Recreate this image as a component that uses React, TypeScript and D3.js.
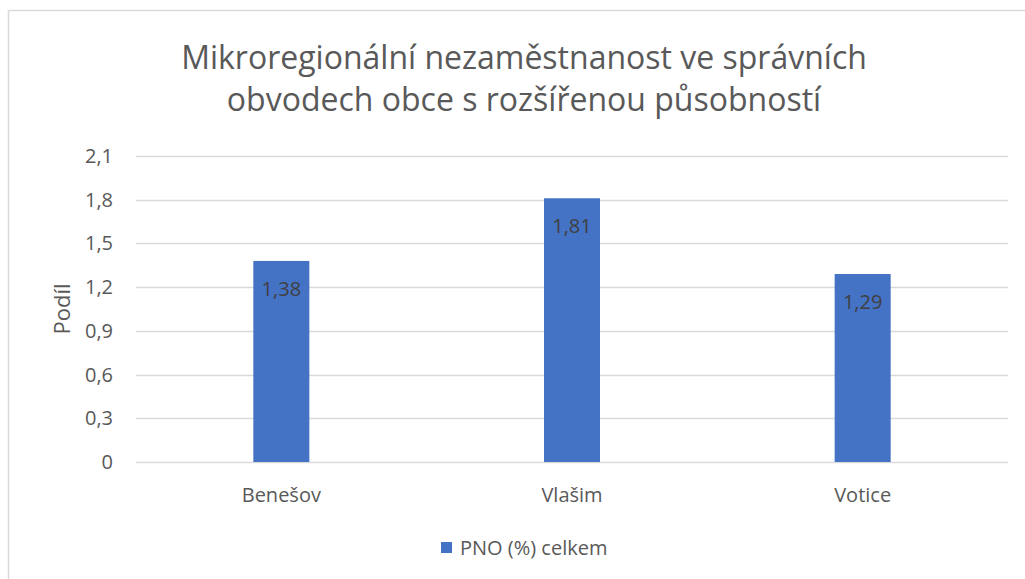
import * as d3 from "d3";
import React, { useRef, useEffect } from "react";

const categories = ["Benešov", "Vlašim", "Votice"];
const values = [1.38, 1.81, 1.29];
const yTicks = [0, 0.3, 0.6, 0.9, 1.2, 1.5, 1.8, 2.1];
const titleLines = [
  "Mikroregionální nezaměstnanost ve správních",
  "obvodech obce s rozšířenou působností",
];
const seriesName = "PNO (%) celkem";
const yLabel = "Podíl";

const width = 1025;
const height = 579;
const margin = { top: 156, right: 17, bottom: 117, left: 136 };
const font = "'Open Sans', sans-serif";
const fmt = (v: number) => d3.format(".2~f")(v).replace(".", ",");

function App() {
  const ref = useRef(null);

  useEffect(() => {
    const svg = d3.select(ref.current);
    svg.selectAll("*").remove();

    // frame
    svg
      .append("path")
      .attr("d", `M8.5,${height} V10.5 H${width}`)
      .attr("fill", "none")
      .attr("stroke", "#d9d9d9")
      .attr("stroke-width", 1.5);

    // title
    svg
      .append("g")
      .selectAll("text")
      .data(titleLines)
      .join("text")
      .attr("x", 524)
      .attr("y", (d, i) => 69 + i * 42)
      .attr("text-anchor", "middle")
      .style("font-family", font)
      .style("font-size", "32px")
      .style("fill", "#595959")
      .text((d) => d);

    const x = d3
      .scaleBand()
      .domain(categories)
      .range([margin.left, width - margin.right]);

    const y = d3
      .scaleLinear()
      .domain([0, 2.1])
      .range([height - margin.bottom, margin.top]);

    // gridlines
    svg
      .append("g")
      .selectAll("line")
      .data(yTicks)
      .join("line")
      .attr("x1", margin.left)
      .attr("x2", width - margin.right)
      .attr("y1", (d) => Math.round(y(d)) + 0.5)
      .attr("y2", (d) => Math.round(y(d)) + 0.5)
      .attr("stroke", "#d9d9d9")
      .attr("stroke-width", 1.5);

    // y axis labels
    svg
      .append("g")
      .selectAll("text")
      .data(yTicks)
      .join("text")
      .attr("x", 113)
      .attr("y", (d) => y(d))
      .attr("dy", "0.35em")
      .attr("text-anchor", "end")
      .style("font-family", font)
      .style("font-size", "20px")
      .style("fill", "#595959")
      .text((d) => (d === 0 ? "0" : d3.format(".1f")(d).replace(".", ",")));

    svg
      .append("text")
      .attr("transform", `translate(62,${y(1.05)}) rotate(-90)`)
      .attr("dy", "0.35em")
      .attr("text-anchor", "middle")
      .style("font-family", font)
      .style("font-size", "22px")
      .style("fill", "#595959")
      .text(yLabel);

    // bars
    const barW = 56;
    const bars = svg.append("g");
    bars
      .selectAll("rect")
      .data(values)
      .join("rect")
      .attr("x", (d, i) => x(categories[i])! + x.bandwidth() / 2 - barW / 2)
      .attr("y", (d) => y(d))
      .attr("width", barW)
      .attr("height", (d) => y(0) - y(d))
      .attr("fill", "#4472c4");

    bars
      .selectAll("text")
      .data(values)
      .join("text")
      .attr("x", (d, i) => x(categories[i])! + x.bandwidth() / 2)
      .attr("y", (d) => y(d) + 28)
      .attr("dy", "0.35em")
      .attr("text-anchor", "middle")
      .style("font-family", font)
      .style("font-size", "20px")
      .style("fill", "#404040")
      .text((d) => fmt(d));

    // x labels
    svg
      .append("g")
      .selectAll("text")
      .data(categories)
      .join("text")
      .attr("x", (d) => x(d)! + x.bandwidth() / 2)
      .attr("y", 495)
      .attr("dy", "0.35em")
      .attr("text-anchor", "middle")
      .style("font-family", font)
      .style("font-size", "20px")
      .style("fill", "#595959")
      .text((d) => d);

    // legend
    svg
      .append("rect")
      .attr("x", 441)
      .attr("y", 542)
      .attr("width", 11)
      .attr("height", 11)
      .attr("fill", "#4472c4");
    svg
      .append("text")
      .attr("x", 460)
      .attr("y", 548)
      .attr("dy", "0.35em")
      .style("font-family", font)
      .style("font-size", "20px")
      .style("fill", "#595959")
      .text(seriesName);
  }, []);

  return (
    <svg
      ref={ref}
      width={width}
      height={height}
      style={{ position: "absolute", left: 0, top: 0, background: "#fff" }}
    ></svg>
  );
}

export default App;
